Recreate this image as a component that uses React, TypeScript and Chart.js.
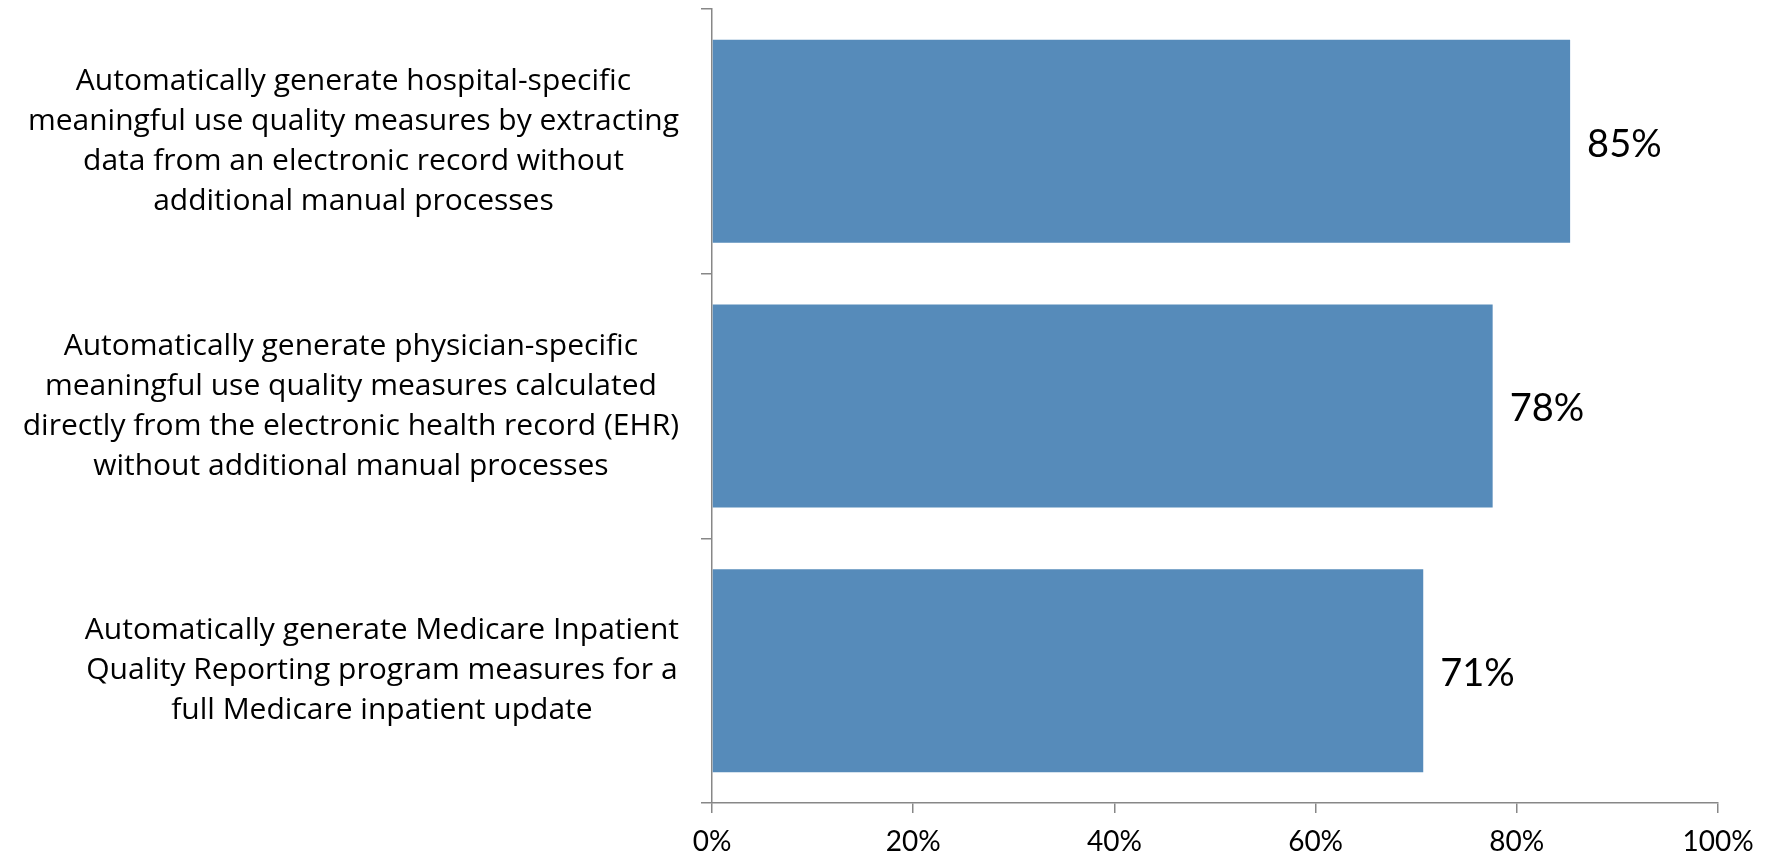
import React, { useEffect, useRef } from "react";
import { Chart, registerables } from "chart.js";

Chart.register(...registerables);

const categories: string[][] = [
  [
    "Automatically generate hospital-specific",
    "meaningful use quality measures by extracting",
    "data from an electronic record without",
    "additional manual processes",
  ],
  [
    "Automatically generate physician-specific",
    "meaningful use quality measures calculated",
    "directly from the electronic health record (EHR)",
    "without additional manual processes",
  ],
  [
    "Automatically generate Medicare Inpatient",
    "Quality Reporting program measures for a",
    "full Medicare inpatient update",
  ],
];
const values: number[] = [85.3, 77.6, 70.7];
const valueLabels: string[] = ["85%", "78%", "71%"];
const xTickValues: number[] = [0, 20, 40, 60, 80, 100];

const FONT = "Lato, 'Open Sans', sans-serif";
const CAT_FONT = "'Open Sans', Lato, sans-serif";
const AXIS_COLOR = "#878787";
const BAR_COLOR = "#568BBA";

const categoryLabelPlugin = {
  id: "categoryLabels",
  afterDraw(chart: any) {
    const ctx = chart.ctx;
    const yScale = chart.scales.y;
    const area = chart.chartArea;
    ctx.save();
    ctx.font = `30px ${CAT_FONT}`;
    ctx.fillStyle = "#000";
    ctx.textAlign = "center";
    ctx.textBaseline = "middle";
    const lineH = 40;
    const rightEdge = area.left - 33;
    categories.forEach((lines, i) => {
      const cy = yScale.getPixelForValue(i);
      const widest = Math.max(...lines.map((l) => ctx.measureText(l).width));
      const cx = rightEdge - widest / 2;
      const startY = cy - ((lines.length - 1) * lineH) / 2;
      lines.forEach((l, j) => ctx.fillText(l, cx, startY + j * lineH));
    });
    ctx.restore();
  },
};

const valueLabelPlugin = {
  id: "valueLabels",
  afterDatasetsDraw(chart: any) {
    const ctx = chart.ctx;
    const meta = chart.getDatasetMeta(0);
    ctx.save();
    ctx.font = `38px ${FONT}`;
    ctx.fillStyle = "#000";
    ctx.textAlign = "left";
    ctx.textBaseline = "middle";
    meta.data.forEach((bar: any, i: number) => {
      ctx.fillText(valueLabels[i], bar.x + 17, bar.y + 3);
    });
    ctx.restore();
  },
};

export default function App() {
  const canvasRef = useRef<HTMLCanvasElement | null>(null);

  useEffect(() => {
    if (!canvasRef.current) return;
    const chart = new Chart(canvasRef.current, {
      type: "bar",
      data: {
        labels: categories.map((c) => c.join(" ")),
        datasets: [
          {
            data: values,
            backgroundColor: BAR_COLOR,
            borderWidth: 0,
            categoryPercentage: 1,
            barPercentage: 0.767,
          },
        ],
      },
      options: {
        indexAxis: "y",
        animation: false,
        responsive: false,
        devicePixelRatio: 1,
        layout: { padding: { left: 0, top: 9, right: 53, bottom: 0 } },
        plugins: {
          legend: { display: false },
          tooltip: { enabled: false },
        },
        scales: {
          x: {
            min: 0,
            max: 100,
            afterBuildTicks: (scale: any) => {
              scale.ticks = xTickValues.map((v) => ({ value: v }));
            },
            afterFit: (scale: any) => {
              scale.height = 55;
            },
            ticks: {
              callback: (v: any) => `${v}%`,
              font: { family: FONT, size: 28 },
              color: "#000",
              padding: 12,
              maxRotation: 0,
            },
            grid: {
              drawOnChartArea: false,
              drawTicks: true,
              tickLength: 10,
              color: AXIS_COLOR,
              lineWidth: 1.5,
            },
            border: { display: true, color: AXIS_COLOR, width: 1.5 },
          },
          y: {
            offset: true,
            afterFit: (scale: any) => {
              scale.width = 712;
            },
            ticks: { display: false },
            grid: {
              offset: true,
              drawOnChartArea: false,
              drawTicks: true,
              tickLength: 11,
              color: AXIS_COLOR,
              lineWidth: 1.5,
            },
            border: { display: true, color: AXIS_COLOR, width: 1.5 },
          },
        },
      },
      plugins: [categoryLabelPlugin, valueLabelPlugin],
    });
    return () => chart.destroy();
  }, []);

  return (
    <div style={{ position: "absolute", left: 0, top: 0, width: 1771, height: 858, background: "#fff" }}>
      <canvas ref={canvasRef} width={1771} height={858} />
    </div>
  );
}
